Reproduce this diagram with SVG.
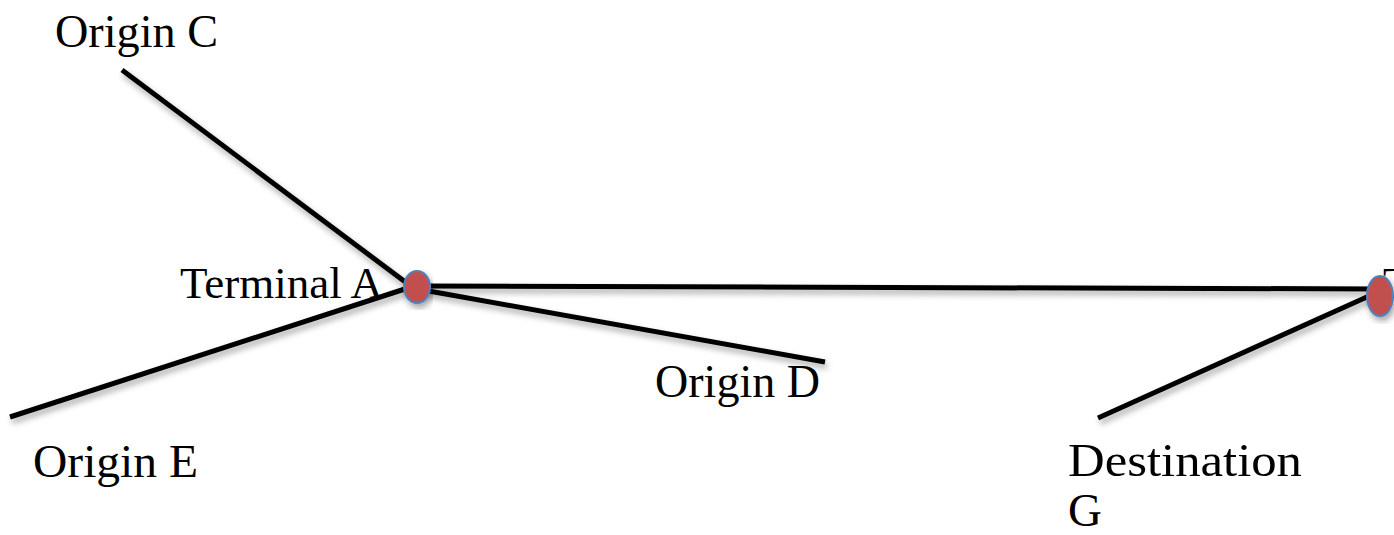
<svg xmlns="http://www.w3.org/2000/svg" width="1394" height="535" viewBox="0 0 1394 535">
  <style>
    .lbl { font-family: "Liberation Serif", "DejaVu Serif", serif; font-size: 47px; fill: #000; }
    .term { font-size: 45px; }
    .edge { stroke: #000; stroke-width: 5; fill: none; }
    .stop { fill: #C0504D; stroke: #4F81BD; stroke-width: 2; }
  </style>
  <defs>
    <filter id="shadow" x="-10%" y="-10%" width="120%" height="130%">
      <feDropShadow dx="2" dy="4" stdDeviation="3" flood-color="#000" flood-opacity="0.35"/>
    </filter>
  </defs>
  <rect width="1394" height="535" fill="#fff"/>

  <g id="connectors" filter="url(#shadow)">
    <line class="edge" x1="122" y1="70" x2="408" y2="284"/>
    <line class="edge" x1="10" y1="417" x2="408" y2="288"/>
    <line class="edge" x1="412" y1="288" x2="825" y2="362"/>
    <line class="edge" x1="415" y1="286" x2="1380" y2="289"/>
    <line class="edge" x1="1098" y1="418" x2="1378" y2="292"/>
  </g>

  <g id="origin-c"><text class="lbl" x="55" y="47" textLength="163" lengthAdjust="spacingAndGlyphs">Origin C</text></g>
  <g id="origin-e"><text class="lbl" x="33" y="477" textLength="165" lengthAdjust="spacingAndGlyphs">Origin E</text></g>
  <g id="origin-d"><text class="lbl" x="655" y="397" textLength="165" lengthAdjust="spacingAndGlyphs">Origin D</text></g>
  <g id="terminal-a">
    <text class="lbl term" x="180" y="298">Terminal A</text>
    <ellipse class="stop" cx="417" cy="287" rx="13" ry="16" filter="url(#shadow)"/>
  </g>
  <g id="terminal-b">
    <text class="lbl term" x="1383" y="298">T</text>
    <ellipse class="stop" cx="1380" cy="296" rx="13" ry="20" filter="url(#shadow)"/>
  </g>
  <g id="destination-g">
    <text class="lbl" x="1068" y="476" textLength="234" lengthAdjust="spacingAndGlyphs">Destination</text>
    <text class="lbl" x="1068" y="526">G</text>
  </g>
</svg>
